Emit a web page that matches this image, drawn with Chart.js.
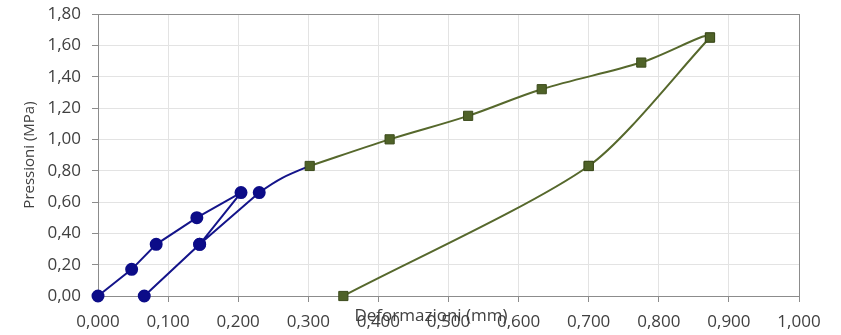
<!DOCTYPE html>
<html>
<head>
<meta charset="utf-8">
<script src="https://cdn.jsdelivr.net/npm/chart.js@4"></script>
<style>
  html,body{margin:0;padding:0;background:#fff;}
  #wrap{width:841px;height:335px;}
</style>
</head>
<body>
<div id="wrap"><canvas id="grafico"></canvas></div>
<script>
/* Prova edometrica: pressioni vs deformazioni */
const xTitolo = 'Deformazioni (mm)';
const yTitolo = 'Pressioni (MPa)';

// primo ciclo carico / scarico / ricarico (blu)
const bluX = [0.000, 0.048, 0.083, 0.141, 0.204, 0.145, 0.066, 0.145, 0.230];
const bluY = [0.00, 0.17, 0.33, 0.50, 0.66, 0.33, 0.00, 0.33, 0.66];
// raccordo curvo fra i due rami
const raccX = [0.145, 0.230, 0.302, 0.416];
const raccY = [0.33, 0.66, 0.83, 1.00];
// secondo ciclo (verde): ramo di carico e ramo di scarico
const caricoX = [0.302, 0.416, 0.528, 0.633, 0.775, 0.873, 0.700];
const caricoY = [0.83, 1.00, 1.15, 1.32, 1.49, 1.65, 0.83];
const scaricoX = [0.873, 0.700, 0.350];
const scaricoY = [1.65, 0.83, 0.00];

const FONT = "'Open Sans', sans-serif";
const VERDE = '#56682c';
const BLU = '#14148a';
const pts = (xs, ys) => xs.map((x, i) => ({x, y: ys[i]}));
const fmt = (v, d) => v.toFixed(d).replace('.', ',');

const titoloX = {
  id: 'titoloX',
  afterDraw(chart){
    const c = chart.ctx;
    c.save();
    c.font = '17px ' + FONT;
    c.fillStyle = '#404040';
    c.textAlign = 'center';
    c.textBaseline = 'middle';
    c.fillText(xTitolo, 431, 316);
    c.restore();
  }
};

const marcaVerde = {pointStyle: 'rect', pointRadius: 6.5, pointHoverRadius: 6.5, pointBackgroundColor: '#4f6228',
                    pointBorderColor: '#3c4b1c', pointBorderWidth: 1};

new Chart(document.getElementById('grafico'), {
  type: 'scatter',
  data: {
    datasets: [
      {data: pts(caricoX, caricoY), showLine: true, tension: 0.35, borderColor: VERDE, borderWidth: 2,
       ...marcaVerde, clip: false, order: 1,
       segment: {borderColor: ctx => ctx.p0DataIndex === 5 ? 'transparent' : VERDE}},
      {data: pts(scaricoX, scaricoY), showLine: true, tension: 0.25, borderColor: VERDE, borderWidth: 2,
       ...marcaVerde, clip: false, order: 1},
      {data: pts(bluX, bluY), showLine: true, tension: 0, borderColor: BLU, borderWidth: 2,
       pointStyle: 'circle', pointRadius: 5.5, pointHoverRadius: 5.5, pointBackgroundColor: '#0c0c88',
       pointBorderColor: '#0c0c88', clip: false, order: 2},
      {data: pts(raccX, raccY), showLine: true, tension: 0.45, borderColor: BLU, borderWidth: 2,
       pointRadius: 0, clip: false, order: 3,
       segment: {borderColor: ctx => ctx.p0DataIndex === 1 ? BLU : 'transparent'}}
    ]
  },
  options: {
    responsive: true,
    maintainAspectRatio: false,
    animation: false,
    layout: {padding: {top: 14, right: 42, left: 0, bottom: 0}},
    plugins: {legend: {display: false}, tooltip: {enabled: false}},
    scales: {
      x: {
        type: 'linear', min: 0, max: 1,
        afterFit: s => { s.height = 39; s.paddingLeft = 0; s.paddingRight = 0; },
        grid: {color: c => c.tick.value >= 0.999 ? '#8c8c8c' : '#e3e3e3', tickColor: '#8c8c8c', tickLength: 6},
        border: {color: '#8c8c8c', width: 1},
        ticks: {stepSize: 0.1, color: '#404040', font: {family: FONT, size: 17}, padding: 10,
                maxRotation: 0, callback: v => fmt(v, 3)}
      },
      y: {
        type: 'linear', min: 0, max: 1.8,
        afterFit: s => { s.width = 98; s.paddingTop = 0; s.paddingBottom = 0; },
        grid: {color: c => c.tick.value >= 1.799 ? '#8c8c8c' : '#e3e3e3', tickColor: '#8c8c8c', tickLength: 6},
        border: {color: '#8c8c8c', width: 1},
        ticks: {stepSize: 0.2, color: '#404040', font: {family: FONT, size: 17}, padding: 11,
                callback: v => fmt(v, 2)},
        title: {display: true, text: yTitolo, color: '#404040', font: {family: FONT, size: 15},
                padding: {top: 21, bottom: 0}}
      }
    }
  },
  plugins: [titoloX]
});
</script>
</body>
</html>
